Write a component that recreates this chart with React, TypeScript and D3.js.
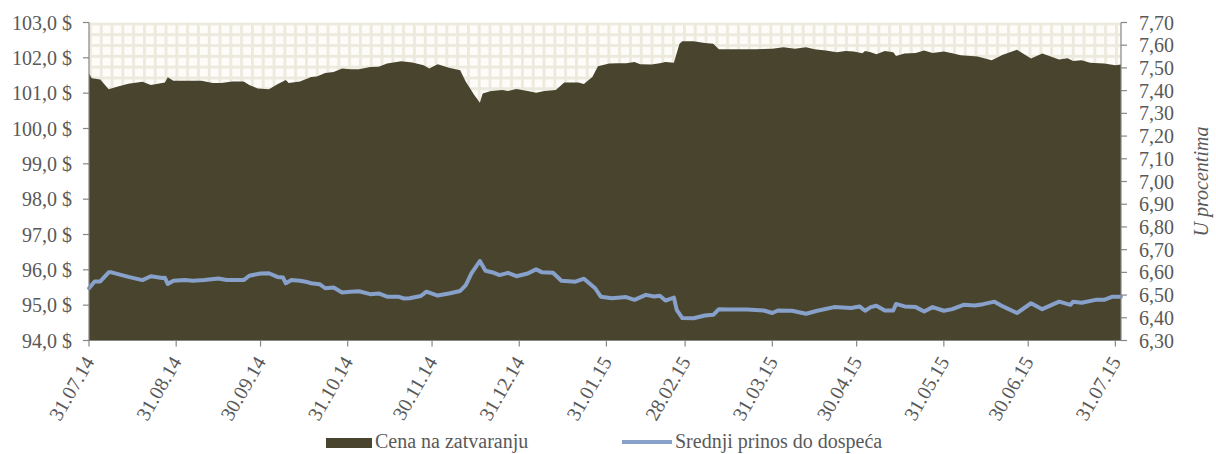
import React from 'react';
import * as d3 from 'd3';

const priceDates = [
  '31.07.14', '01.08.14', '04.08.14', '07.08.14', '10.08.14', '14.08.14', '19.08.14', '22.08.14', '26.08.14', '27.08.14',
  '28.08.14', '30.08.14', '03.09.14', '09.09.14', '13.09.14', '16.09.14', '20.09.14', '24.09.14', '26.09.14', '29.09.14',
  '03.10.14', '06.10.14', '09.10.14', '10.10.14', '14.10.14', '18.10.14', '20.10.14', '23.10.14', '26.10.14', '29.10.14',
  '01.11.14', '04.11.14', '08.11.14', '11.11.14', '14.11.14', '19.11.14', '23.11.14', '27.11.14', '29.11.14', '02.12.14',
  '06.12.14', '10.12.14', '12.12.14', '15.12.14', '17.12.14', '18.12.14', '21.12.14', '25.12.14', '27.12.14', '30.12.14',
  '01.01.15', '03.01.15', '06.01.15', '09.01.15', '13.01.15', '16.01.15', '21.01.15', '23.01.15', '26.01.15', '28.01.15',
  '01.02.15', '04.02.15', '07.02.15', '10.02.15', '12.02.15', '16.02.15', '19.02.15', '21.02.15', '24.02.15', '26.02.15',
  '27.02.15', '03.03.15', '07.03.15', '10.03.15', '12.03.15', '14.03.15', '19.03.15', '25.03.15', '31.03.15', '04.04.15',
  '08.04.15', '12.04.15', '15.04.15', '19.04.15', '23.04.15', '26.04.15', '29.04.15', '02.05.15', '03.05.15', '05.05.15',
  '07.05.15', '10.05.15', '13.05.15', '14.05.15', '17.05.15', '21.05.15', '24.05.15', '27.05.15', '31.05.15', '03.06.15',
  '06.06.15', '12.06.15', '17.06.15', '21.06.15', '26.06.15', '01.07.15', '05.07.15', '11.07.15', '14.07.15', '16.07.15',
  '19.07.15', '22.07.15', '27.07.15', '31.07.15', '02.08.15'
];
const priceValues = [
  101.56, 101.42, 101.39, 101.11, 101.18, 101.27, 101.32, 101.23, 101.29, 101.30,
  101.45, 101.35, 101.35, 101.35, 101.29, 101.29, 101.33, 101.33, 101.23, 101.13,
  101.11, 101.25, 101.37, 101.29, 101.33, 101.46, 101.47, 101.57, 101.60, 101.70,
  101.68, 101.68, 101.74, 101.75, 101.84, 101.90, 101.87, 101.79, 101.70, 101.82,
  101.72, 101.65, 101.32, 100.95, 100.73, 100.99, 101.06, 101.09, 101.06, 101.12,
  101.09, 101.06, 101.01, 101.06, 101.09, 101.30, 101.30, 101.26, 101.46, 101.76,
  101.84, 101.85, 101.85, 101.88, 101.82, 101.81, 101.85, 101.88, 101.86, 102.40,
  102.47, 102.47, 102.42, 102.40, 102.24, 102.24, 102.24, 102.24, 102.26, 102.30,
  102.26, 102.30, 102.24, 102.21, 102.16, 102.19, 102.18, 102.13, 102.19, 102.16,
  102.10, 102.19, 102.16, 102.05, 102.12, 102.14, 102.21, 102.14, 102.18, 102.13,
  102.07, 102.04, 101.93, 102.09, 102.23, 101.98, 102.12, 101.95, 101.99, 101.91,
  101.93, 101.86, 101.84, 101.79, 101.81
];

const yieldDates = [
  '31.07.14', '02.08.14', '04.08.14', '07.08.14', '08.08.14', '14.08.14', '19.08.14', '22.08.14', '26.08.14', '27.08.14',
  '28.08.14', '30.08.14', '03.09.14', '06.09.14', '10.09.14', '15.09.14', '18.09.14', '24.09.14', '26.09.14', '30.09.14',
  '03.10.14', '06.10.14', '08.10.14', '09.10.14', '11.10.14', '14.10.14', '16.10.14', '18.10.14', '21.10.14', '23.10.14',
  '26.10.14', '29.10.14', '01.11.14', '04.11.14', '08.11.14', '11.11.14', '14.11.14', '18.11.14', '20.11.14', '22.11.14',
  '26.11.14', '28.11.14', '02.12.14', '06.12.14', '10.12.14', '12.12.14', '14.12.14', '17.12.14', '19.12.14', '22.12.14',
  '24.12.14', '27.12.14', '30.12.14', '03.01.15', '06.01.15', '08.01.15', '12.01.15', '15.01.15', '20.01.15', '23.01.15',
  '27.01.15', '29.01.15', '02.02.15', '04.02.15', '07.02.15', '10.02.15', '14.02.15', '17.02.15', '19.02.15', '21.02.15',
  '24.02.15', '25.02.15', '27.02.15', '03.03.15', '07.03.15', '10.03.15', '12.03.15', '15.03.15', '22.03.15', '28.03.15',
  '31.03.15', '02.04.15', '07.04.15', '12.04.15', '16.04.15', '22.04.15', '28.04.15', '01.05.15', '03.05.15', '05.05.15',
  '07.05.15', '10.05.15', '13.05.15', '14.05.15', '17.05.15', '21.05.15', '24.05.15', '27.05.15', '31.05.15', '03.06.15',
  '07.06.15', '11.06.15', '14.06.15', '18.06.15', '21.06.15', '26.06.15', '01.07.15', '05.07.15', '11.07.15', '15.07.15',
  '16.07.15', '19.07.15', '24.07.15', '27.07.15', '30.07.15', '02.08.15'
];
const yieldValues = [
  6.530, 6.560, 6.560, 6.600, 6.600, 6.580, 6.566, 6.583, 6.575, 6.576,
  6.549, 6.563, 6.566, 6.563, 6.566, 6.573, 6.566, 6.566, 6.585, 6.595,
  6.596, 6.580, 6.577, 6.552, 6.566, 6.563, 6.559, 6.552, 6.548, 6.530,
  6.533, 6.511, 6.515, 6.517, 6.504, 6.507, 6.493, 6.493, 6.485, 6.486,
  6.496, 6.515, 6.498, 6.507, 6.518, 6.544, 6.595, 6.650, 6.607, 6.598,
  6.588, 6.598, 6.583, 6.595, 6.613, 6.601, 6.598, 6.563, 6.559, 6.572,
  6.530, 6.493, 6.486, 6.488, 6.491, 6.479, 6.501, 6.494, 6.497, 6.476,
  6.489, 6.435, 6.399, 6.398, 6.410, 6.413, 6.438, 6.436, 6.436, 6.432,
  6.421, 6.432, 6.431, 6.418, 6.431, 6.447, 6.443, 6.450, 6.431, 6.447,
  6.453, 6.432, 6.432, 6.461, 6.450, 6.447, 6.428, 6.447, 6.431, 6.438,
  6.457, 6.454, 6.460, 6.471, 6.450, 6.421, 6.464, 6.438, 6.471, 6.457,
  6.471, 6.466, 6.479, 6.479, 6.493, 6.493
];

const xTickLabels = [
  '31.07.14', '31.08.14', '30.09.14', '31.10.14', '30.11.14', '31.12.14', '31.01.15',
  '28.02.15', '31.03.15', '30.04.15', '31.05.15', '30.06.15', '31.07.15'
];
const leftTicks = [94, 95, 96, 97, 98, 99, 100, 101, 102, 103];
const rightTicks = [6.3, 6.4, 6.5, 6.6, 6.7, 6.8, 6.9, 7.0, 7.1, 7.2, 7.3, 7.4, 7.5, 7.6, 7.7];

const seriesNames = ['Cena na zatvaranju', 'Srednji prinos do dospeća'];

const parseDate = d3.timeParse('%d.%m.%y');

const W = 1216;
const H = 454;
const plot = { left: 89, right: 1121, top: 22.5, bottom: 340.5 };
const AREA_COLOR = '#49442e';
const LINE_COLOR = '#87a1cb';
const AXIS_COLOR = '#868686';
const TEXT_COLOR = '#595959';
const FONT = '"Liberation Serif", "Times New Roman", serif';

export default function App() {
  const priceData = priceDates.map((d, i) => ({ date: parseDate(d) as Date, value: priceValues[i] }));
  const yieldData = yieldDates.map((d, i) => ({ date: parseDate(d) as Date, value: yieldValues[i] }));

  const x = d3.scaleTime()
    .domain([parseDate('31.07.14') as Date, parseDate('02.08.15') as Date])
    .range([plot.left, plot.right]);
  const yLeft = d3.scaleLinear().domain([94, 103]).range([plot.bottom, plot.top]);
  const yRight = d3.scaleLinear().domain([6.3, 7.7]).range([plot.bottom, plot.top]);

  const areaPath = d3.area<{ date: Date; value: number }>()
    .x(d => x(d.date))
    .y0(yLeft(94))
    .y1(d => yLeft(d.value))(priceData) || '';

  const linePath = d3.line<{ date: Date; value: number }>()
    .x(d => x(d.date))
    .y(d => yRight(d.value))(yieldData) || '';

  const fmtLeft = (v: number) => v.toFixed(1).replace('.', ',') + ' $';
  const fmtRight = (v: number) => v.toFixed(2).replace('.', ',');

  return (
    <svg width={W} height={H} style={{ position: 'absolute', left: 0, top: 0, fontFamily: FONT }}>
      <defs>
        <pattern id="grid" patternUnits="userSpaceOnUse" x={plot.left} y={plot.top} width={10.8} height={10.8}>
          <rect width={10.8} height={10.8} fill="#ece9dd" />
          <rect x={2.8} y={2.8} width={8} height={8} fill="#fdfcf8" />
        </pattern>
      </defs>

      {/* plot background */}
      <rect x={plot.left} y={plot.top} width={plot.right - plot.left} height={plot.bottom - plot.top} fill="url(#grid)" />

      {/* price area */}
      <path d={areaPath} fill={AREA_COLOR} />

      {/* yield line */}
      <path d={linePath} fill="none" stroke={LINE_COLOR} strokeWidth={4} strokeLinejoin="round" strokeLinecap="round" />

      {/* axes */}
      <line x1={plot.left} x2={plot.left} y1={plot.top} y2={plot.bottom} stroke={AXIS_COLOR} strokeWidth={1.2} />
      <line x1={plot.right} x2={plot.right} y1={plot.top} y2={plot.bottom} stroke={AXIS_COLOR} strokeWidth={1.2} />
      <line x1={plot.left} x2={plot.right} y1={plot.bottom} y2={plot.bottom} stroke={AXIS_COLOR} strokeWidth={1.2} />

      {leftTicks.map(t => (
        <g key={`l-${t}`}>
          <line x1={plot.left - 6} x2={plot.left} y1={yLeft(t)} y2={yLeft(t)} stroke={AXIS_COLOR} strokeWidth={1.2} />
          <text x={72} y={yLeft(t)} dy="0.35em" textAnchor="end" fontSize={20} fill={TEXT_COLOR}>
            {fmtLeft(t)}
          </text>
        </g>
      ))}

      {rightTicks.map(t => (
        <g key={`r-${t}`}>
          <line x1={plot.right} x2={plot.right + 6} y1={yRight(t)} y2={yRight(t)} stroke={AXIS_COLOR} strokeWidth={1.2} />
          <text x={1139} y={yRight(t)} dy="0.35em" textAnchor="start" fontSize={20} fill={TEXT_COLOR}>
            {fmtRight(t)}
          </text>
        </g>
      ))}

      {xTickLabels.map(lbl => {
        const tx = x(parseDate(lbl) as Date);
        return (
          <g key={`x-${lbl}`}>
            <line x1={tx} x2={tx} y1={plot.bottom} y2={plot.bottom + 6} stroke={AXIS_COLOR} strokeWidth={1.2} />
            <text
              transform={`translate(${tx}, 358) rotate(-60)`}
              dy="0.35em"
              textAnchor="end"
              fontSize={20}
              fill={TEXT_COLOR}
            >
              {lbl}
            </text>
          </g>
        );
      })}

      {/* right axis title */}
      <text
        transform={`translate(1208, ${(plot.top + plot.bottom) / 2}) rotate(-90)`}
        textAnchor="middle"
        fontSize={20}
        fontStyle="italic"
        fill={TEXT_COLOR}
      >
        U procentima
      </text>

      {/* legend */}
      <rect x={326} y={438} width={46} height={10} fill={AREA_COLOR} />
      <text x={375} y={448} fontSize={20} fill={TEXT_COLOR}>{seriesNames[0]}</text>
      <line x1={622} x2={672} y1={442} y2={442} stroke={LINE_COLOR} strokeWidth={4} />
      <text x={675} y={448} fontSize={20} fill={TEXT_COLOR}>{seriesNames[1]}</text>
    </svg>
  );
}
